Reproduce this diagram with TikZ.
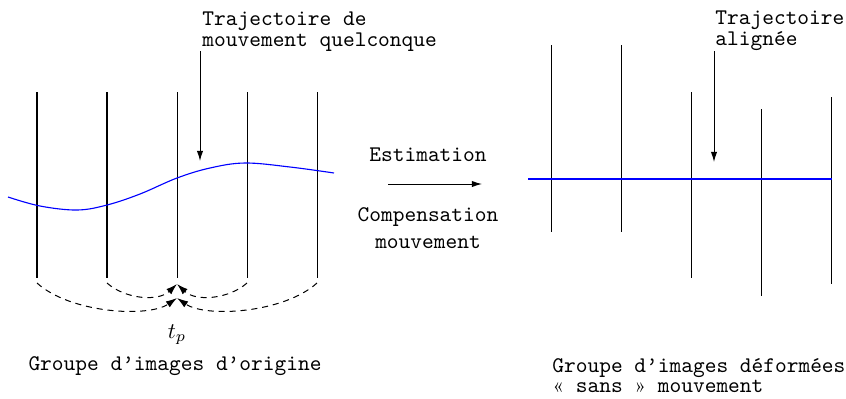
\documentclass[tikz,border=0pt]{standalone}
\usetikzlibrary{arrows.meta}
\begin{document}
\begin{tikzpicture}[x=0.448pt,y=-0.448pt,
  frame/.style={line width=0.45pt},
  traj/.style={blue,line width=0.5pt},
  pointer/.style={line width=0.45pt,-{Latex[length=4.5pt,width=2.8pt]}},
  warp/.style={line width=0.45pt,dash pattern=on 2.7pt off 2.2pt,-{Latex[length=5pt,width=3.2pt]}},
  lbl/.style={font=\ttfamily,inner sep=0pt}]
\useasboundingbox (0,0) rectangle (846,398);
% left frames
\foreach \i/\x in {1/37,2/107,3/177,4/247,5/317}{
  \coordinate (L\i t) at (\x,92);
  \coordinate (L\i b) at (\x,278);
  \draw[frame] (L\i t) -- (L\i b);
}
% left trajectory
\draw[traj] plot[smooth,tension=0.6] coordinates {(8,197) (40,206) (77,210) (107,205) (140,194) (177,178) (210,168) (245,163) (290,167) (334,173)};
% top-left text
\node[lbl,anchor=base west] (tl1) at (202,25) {Trajectoire de};
\node[lbl,anchor=base west] (tl2) at (202,46) {mouvement quelconque};
\coordinate (pl0) at (200,51);
\coordinate (pl1) at (200,161);
\draw[pointer] (pl0) -- (pl1);
% dashed arcs
\coordinate (ti) at (177,284);
\coordinate (to) at (177,298);
\coordinate (s1) at (37,283);
\coordinate (s2) at (107,283);
\coordinate (s4) at (247,283);
\coordinate (s5) at (317,283);
\draw[warp] (s2) .. controls (125,299) and (158,302) .. (ti);
\draw[warp] (s4) .. controls (229,299) and (196,302) .. (ti);
\draw[warp] (s1) .. controls (70,313) and (148,318) .. (to);
\draw[warp] (s5) .. controls (284,313) and (206,318) .. (to);
\node[inner sep=0pt,anchor=base] (tp) at (177,338) {$t_p$};
\node[lbl,anchor=base] (capL) at (175,370) {Groupe d’images d’origine};
% middle
\node[lbl,anchor=base] (est) at (428,161) {Estimation};
\coordinate (m0) at (388,184);
\coordinate (m1) at (482,184);
\draw[pointer] (m0) -- (m1);
\node[lbl,anchor=base] (comp) at (428,221) {Compensation};
\node[lbl,anchor=base] (mouv) at (428,248) {mouvement};
% right frames
\foreach \i/\x/\a/\b in {1/551/45/232,2/621/45/232,3/691/92/278,4/761/109/296,5/831/97/284}{
  \coordinate (R\i t) at (\x,\a);
  \coordinate (R\i b) at (\x,\b);
  \draw[frame] (R\i t) -- (R\i b);
}
\coordinate (h0) at (528,179);
\coordinate (h1) at (832,179);
\draw[traj] (h0) -- (h1);
\node[lbl,anchor=base west] (tr1) at (715,24) {Trajectoire};
\node[lbl,anchor=base west] (tr2) at (715,45) {alignée};
\coordinate (pr0) at (714,51);
\coordinate (pr1) at (714,162);
\draw[pointer] (pr0) -- (pr1);
\node[lbl,anchor=base west] (capR1) at (552,372) {Groupe d’images déformées};
\node[lbl,anchor=base west] (capR2) at (552,392) {\makebox[5.25pt]{\rmfamily\small «} sans \makebox[5.25pt]{\rmfamily\small »} mouvement};
\end{tikzpicture}
\end{document}
